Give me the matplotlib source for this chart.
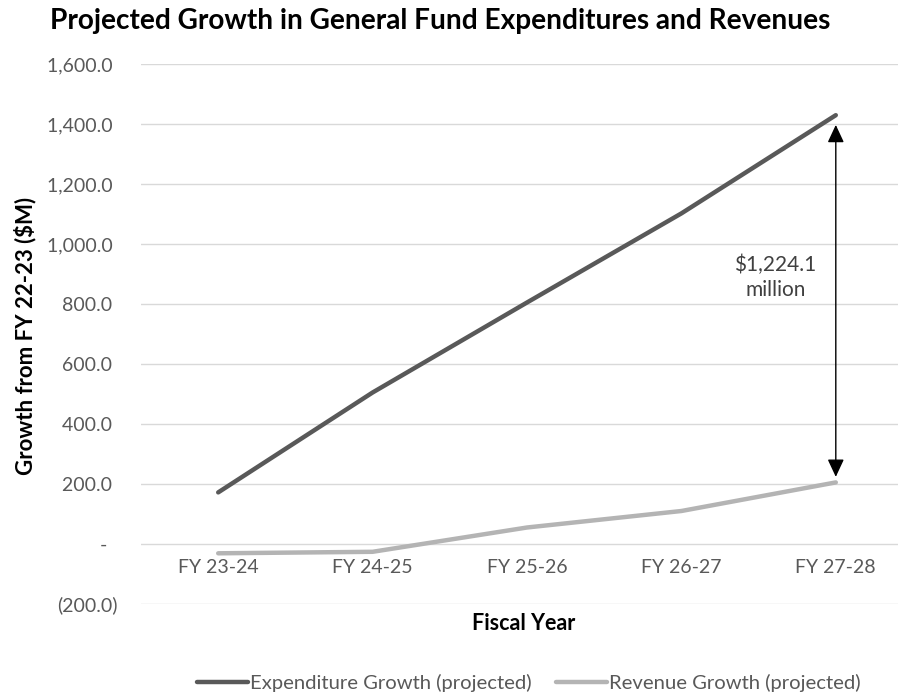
import matplotlib
matplotlib.use("Agg")
import matplotlib.pyplot as plt
from matplotlib.ticker import FuncFormatter, MultipleLocator

# Fiscal years and projected growth relative to FY 22-23 ($ millions)
fiscal_years = ["FY 23-24", "FY 24-25", "FY 25-26", "FY 26-27", "FY 27-28"]
expenditure_growth = [172.0, 505.0, 805.0, 1102.0, 1429.4]
revenue_growth = [-31.0, -26.0, 55.0, 110.0, 205.3]
gap_label = "$1,224.1\nmillion"

FONT = "Lato"
plt.rcParams["font.family"] = [FONT, "DejaVu Sans"]

W, H = 898, 696
fig = plt.figure(figsize=(W / 100, H / 100), dpi=100)

# plot area in pixel terms: left 141, top 64, bottom 604; right side runs off the canvas
left, top, bottom = 141, 64, 604
ax = fig.add_axes([left / W, (H - bottom) / H, 1 - left / W, (bottom - top) / H])

x = list(range(len(fiscal_years)))
ax.plot(x, expenditure_growth, color="#595959", lw=3.2, solid_capstyle="round",
        label="Expenditure Growth (projected)", zorder=3)
ax.plot(x, revenue_growth, color="#b4b4b4", lw=3.2, solid_capstyle="round",
        label="Revenue Growth (projected)", zorder=3)

ax.set_ylim(-200, 1600)
cat_w = 154.4
ax.set_xlim(-0.5, (W - left) / cat_w - 0.5)
ax.yaxis.set_major_locator(MultipleLocator(200))


def fmt(v, _pos):
    if abs(v) < 1e-9:
        return "-  "
    if v < 0:
        return f"({abs(v):,.1f})"
    return f"{v:,.1f} "


ax.yaxis.set_major_formatter(FuncFormatter(fmt))
ax.grid(axis="y", color="#d9d9d9", lw=1.0)
ax.set_axisbelow(True)
for s in ax.spines.values():
    s.set_visible(False)

ax.tick_params(axis="y", length=0, pad=17, labelsize=14, labelcolor="#595959")
ax.spines["bottom"].set_position(("data", 0))
ax.set_xticks(x)
ax.set_xticklabels(fiscal_years)
ax.tick_params(axis="x", length=0, pad=11, labelsize=14, labelcolor="#595959")

fig.text(25 / W, 1 - 336 / H, "Growth from FY 22-23 ($M)", rotation=90,
         ha="center", va="center", fontsize=16, fontweight="bold")

fig.text(524 / W, 1 - 624 / H, "Fiscal Year", ha="center", va="center",
         fontsize=15.5, fontweight="bold")
fig.text(440 / W, 1 - 21 / H, "Projected Growth in General Fund Expenditures and Revenues",
         ha="center", va="center", fontsize=20.2, fontweight="bold")

# double-headed arrow between the two series in the final year
last = len(fiscal_years) - 1
ax.annotate("", xy=(last, revenue_growth[last]), xytext=(last, expenditure_growth[last]),
            arrowprops=dict(arrowstyle="<|-|>,head_length=0.9,head_width=0.42",
                            mutation_scale=12, color="black", lw=1.0,
                            shrinkA=7, shrinkB=4), zorder=4)
ax.text(3.61, 890, gap_label, ha="center", va="center", fontsize=15,
        color="#404040", linespacing=1.3)

fig.legend(loc="center", bbox_to_anchor=(529 / W, 1 - 683 / H), ncol=2, frameon=False,
           fontsize=14.6, labelcolor="#595959", handlelength=2.5, handletextpad=0.1,
           columnspacing=1.2)

fig.savefig("out.png", dpi=100)
